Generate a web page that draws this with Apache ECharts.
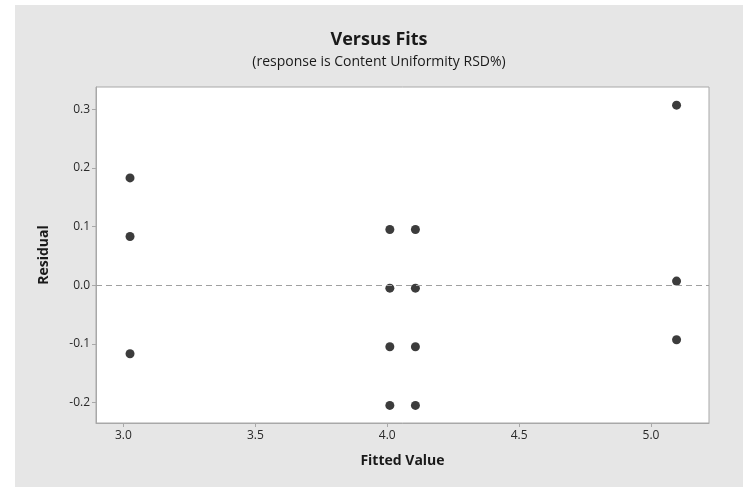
<!DOCTYPE html>
<html>
<head>
<meta charset="utf-8">
<script src="https://cdn.jsdelivr.net/npm/echarts@6/dist/echarts.min.js"></script>
<style>
html,body{margin:0;padding:0;background:#fff;}
#chart{position:absolute;left:15px;top:5px;width:728px;height:482px;background:#e6e6e6;}
</style>
</head>
<body>
<div id="chart"></div>
<script>
// Data
const fittedValues = [3.025, 3.025, 3.025, 4.010, 4.010, 4.010, 4.010, 4.107, 4.107, 4.107, 4.107, 5.097, 5.097, 5.097];
const residuals    = [0.183, 0.083, -0.117, 0.095, -0.005, -0.105, -0.205, 0.095, -0.005, -0.105, -0.205, 0.307, 0.007, -0.093];
const xTicks = [3.0, 3.5, 4.0, 4.5, 5.0];
const yTicks = [-0.2, -0.1, 0.0, 0.1, 0.2, 0.3];
const titleText = 'Versus Fits';
const subtitleText = '(response is Content Uniformity RSD%)';
const xName = 'Fitted Value';
const yName = 'Residual';

const points = fittedValues.map((x, i) => [x, residuals[i]]);
const FONT = "'Open Sans', 'DejaVu Sans', sans-serif";
const chart = echarts.init(document.getElementById('chart'), null, {renderer: 'canvas'});
chart.setOption({
  animation: false,
  backgroundColor: '#e6e6e6',
  title: {
    text: titleText,
    subtext: subtitleText,
    left: 'center',
    top: 21,
    itemGap: 6,
    textStyle: {fontFamily: FONT, fontSize: 18, fontWeight: 'bold', color: '#1a1a1a'},
    subtextStyle: {fontFamily: FONT, fontSize: 14, color: '#1a1a1a'}
  },
  grid: {
    left: 81, top: 82, right: 34, bottom: 64,
    show: true, backgroundColor: '#ffffff', borderColor: '#a8a8a8', borderWidth: 1
  },
  xAxis: {
    type: 'value', min: 2.896, max: 5.22,
    name: xName, nameLocation: 'middle', nameGap: 31,
    nameTextStyle: {fontFamily: FONT, fontSize: 14, fontWeight: 'bold', color: '#1a1a1a'},
    axisLine: {show: true, onZero: false, lineStyle: {color: '#a8a8a8'}},
    axisTick: {show: true, length: 4, customValues: xTicks, lineStyle: {color: '#a8a8a8'}},
    axisLabel: {customValues: xTicks, fontFamily: FONT, fontSize: 12, color: '#2a2a2a', margin: 7,
      formatter: v => v.toFixed(1)},
    splitLine: {show: false}
  },
  yAxis: {
    type: 'value', min: -0.235, max: 0.338,
    name: yName, nameLocation: 'middle', nameGap: 45, nameRotate: 90,
    nameTextStyle: {fontFamily: FONT, fontSize: 14, fontWeight: 'bold', color: '#1a1a1a'},
    axisLine: {show: true, onZero: false, lineStyle: {color: '#a8a8a8'}},
    axisTick: {show: true, length: 4, customValues: yTicks, lineStyle: {color: '#a8a8a8'}},
    axisLabel: {customValues: yTicks, fontFamily: FONT, fontSize: 12, color: '#2a2a2a', margin: 6,
      formatter: v => v.toFixed(1)},
    splitLine: {show: false}
  },
  series: [{
    type: 'scatter',
    data: points,
    symbol: 'circle',
    symbolSize: 9,
    itemStyle: {color: '#3c3c3c', opacity: 1},
    markLine: {
      silent: true,
      symbol: ['none', 'none'],
      label: {show: false},
      lineStyle: {color: '#a0a0a0', type: [6, 4], width: 1},
      data: [{yAxis: 0}]
    }
  }]
});
</script>
</body>
</html>
